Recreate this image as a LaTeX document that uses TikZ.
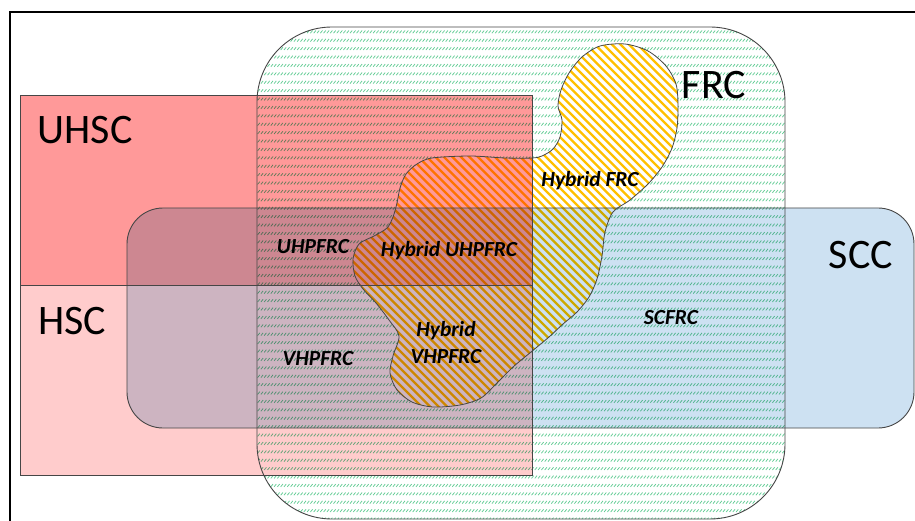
\documentclass[tikz,border=0pt]{standalone}
\usepackage{fontspec}
\setmainfont{Carlito}
\usetikzlibrary{patterns}

\definecolor{uhscred}{RGB}{255,153,153}
\definecolor{hscpink}{RGB}{255,204,204}
\definecolor{sccblue}{RGB}{205,225,242}
\definecolor{frcgreen}{RGB}{100,205,150}
\definecolor{hybyellow}{RGB}{255,192,0}
\definecolor{edgegray}{RGB}{70,70,70}

% rows of short rising strokes used for the FRC set
\pgfdeclarepatternformonly{frcdash}{\pgfqpoint{-0.5pt}{-0.5pt}}{\pgfqpoint{3.8pt}{8.9pt}}{\pgfqpoint{3.3pt}{8.4pt}}{
  \pgfsetlinewidth{0.75pt}
  \pgfpathmoveto{\pgfqpoint{0.2pt}{0.6pt}}
  \pgfpathlineto{\pgfqpoint{2.4pt}{3.3pt}}
  \pgfusepath{stroke}
}

% outline of the hybrid fibre region
\newcommand\blobpath{plot[smooth cycle, tension=0.5] coordinates {
  (600,46) (625,44) (648,51) (666,66) (676,84) (678,105) (677,128) (672,148)
  (662,167) (648,184) (630,200) (613,212) (605,232) (602,256) (597,279)
  (589,297) (577,312) (563,324) (549,337) (531,352) (513,367) (497,383)
  (481,398) (460,405) (433,407) (412,402) (397,390) (390,373) (393,356)
  (399,336) (389,320) (376,303) (363,289) (355,276) (353,259) (359,244)
  (374,236) (387,228) (393,217) (397,203) (400,188) (406,174) (417,164)
  (432,158) (470,156) (505,158) (532,158) (542,156) (553,149) (560,137)
  (562,120) (558,106) (561,90) (569,73) (582,57)
}}

\tikzset{
  setedge/.style={draw=edgegray, line width=0.9pt},
  bigname/.style={font=\fontsize{42}{42}\selectfont, inner sep=0pt},
  subname/.style={font=\fontsize{21.5}{22}\selectfont\bfseries\itshape, inner sep=0pt, align=center},
}

\begin{document}
\begin{tikzpicture}[x=1pt, y=-1pt]
\useasboundingbox (0,0) rectangle (915,521);
\fill[white] (0,0) rectangle (915,521);

% strength classes
\fill[uhscred] (20,95) rectangle (532,285);
\fill[hscpink] (20,285) rectangle (532,475);

\begin{scope}[blend mode=multiply]
  % self-compacting set
  \fill[sccblue, rounded corners=36pt] (127,208) rectangle (914,428);
  % fibre set, left open where the hybrid region lies
  \path[pattern=frcdash, pattern color=frcgreen, even odd rule]
    [rounded corners=75pt] (257,27) rectangle (785,519) [sharp corners] \blobpath;
  % hybrid region stripes
  \begin{scope}
    \clip \blobpath;
    \foreach \k in {0,...,95} {
      \draw[hybyellow, line width=2.4pt] (-40+8.5*\k,30) -- (-40+8.5*\k+400,430);
    }
  \end{scope}
\end{scope}

% outlines
\draw[setedge] (20,95) rectangle (532,285);
\draw[setedge] (20,285) rectangle (532,475);
\draw[setedge, rounded corners=36pt] (127,208) rectangle (914,428);
\draw[setedge, rounded corners=75pt] (257,27) rectangle (785,519);
\draw[edgegray, line width=0.8pt] \blobpath;

% frame
\draw[black, line width=1.6pt] (10,521) -- (10,12) -- (915,12);

% set names
\node[bigname] (uhsc) at (85,130) {UHSC};
\node[bigname] (hsc) at (72,321) {HSC};
\node[bigname] (frc) at (714,85) {FRC};
\node[bigname] (scc) at (861,255) {SCC};

% intersection names
\node[subname] (hfrc) at (590,181) {Hybrid FRC};
\node[subname] (uhpfrc) at (313,247) {UHPFRC};
\node[subname] (huhpfrc) at (449,251) {Hybrid UHPFRC};
\node[subname] (hvhpfrc) at (446,343) {Hybrid\\[5pt]VHPFRC};
\node[subname] (vhpfrc) at (318,359) {VHPFRC};
\node[subname] (scfrc) at (671,318) {SCFRC};
\end{tikzpicture}
\end{document}
